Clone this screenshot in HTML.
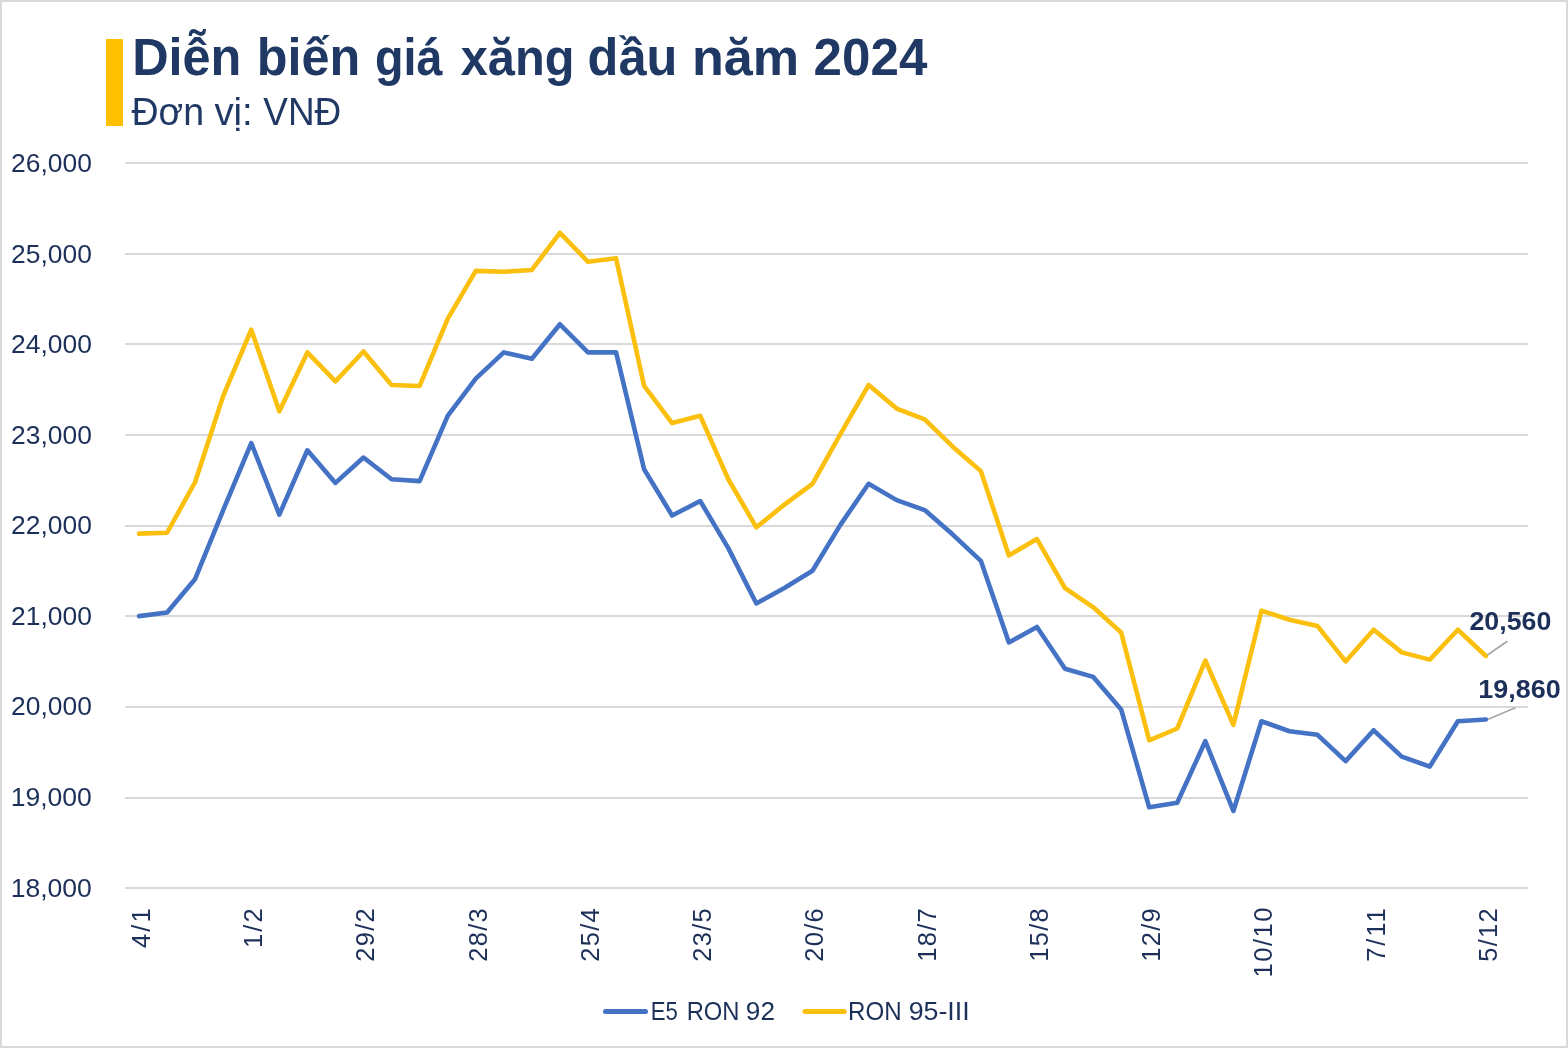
<!DOCTYPE html>
<html lang="vi"><head><meta charset="utf-8"><title>Diễn biến giá xăng dầu năm 2024</title>
<style>
html,body{margin:0;padding:0;background:#fff;}
body{width:1568px;height:1048px;overflow:hidden;font-family:"Liberation Sans",sans-serif;}
svg{display:block;will-change:transform;font-family:"Liberation Sans",sans-serif;}
text{fill:#1D3059;}
.t text{fill:#1F3864;}
.ax{font-size:25.5px;}
</style></head><body>
<svg width="1568" height="1048" viewBox="0 0 1568 1048">
<rect x="0" y="0" width="1568" height="1048" fill="#ffffff"/>
<rect x="1" y="1" width="1566" height="1046" fill="none" stroke="#D9D9D9" stroke-width="2"/>

<rect x="106" y="39" width="17" height="87" fill="#FFC000"/>
<g class="t"><text transform="translate(132.15,75.00) scale(0.9850,1)" font-size="51.2" font-weight="bold">Diễn</text>
<text transform="translate(256.85,75.00) scale(0.9832,1)" font-size="51.2" font-weight="bold">biến</text>
<text transform="translate(375.04,75.00) scale(0.9120,1)" font-size="51.2" font-weight="bold">giá</text>
<text transform="translate(460.70,75.00) scale(0.9516,1)" font-size="51.2" font-weight="bold">xăng</text>
<text transform="translate(587.52,75.00) scale(0.9867,1)" font-size="51.2" font-weight="bold">dầu</text>
<text transform="translate(691.94,75.00) scale(1.0177,1)" font-size="51.2" font-weight="bold">năm</text>
<text transform="translate(813.60,75.00) scale(0.9989,1)" font-size="51.2" font-weight="bold">2024</text></g>
<g class="t"><text transform="translate(131.50,125.30) scale(0.9776,1)" font-size="38.4">Đơn</text>
<text transform="translate(214.40,125.30) scale(0.9991,1)" font-size="38.4">vị:</text>
<text transform="translate(263.30,125.30) scale(0.9618,1)" font-size="38.4">VNĐ</text></g>
<line x1="125.0" y1="163.00" x2="1528.0" y2="163.00" stroke="#D9D9D9" stroke-width="2"/>
<line x1="125.0" y1="254.00" x2="1528.0" y2="254.00" stroke="#D9D9D9" stroke-width="2"/>
<line x1="125.0" y1="344.00" x2="1528.0" y2="344.00" stroke="#D9D9D9" stroke-width="2"/>
<line x1="125.0" y1="435.00" x2="1528.0" y2="435.00" stroke="#D9D9D9" stroke-width="2"/>
<line x1="125.0" y1="526.00" x2="1528.0" y2="526.00" stroke="#D9D9D9" stroke-width="2"/>
<line x1="125.0" y1="616.00" x2="1528.0" y2="616.00" stroke="#D9D9D9" stroke-width="2"/>
<line x1="125.0" y1="707.00" x2="1528.0" y2="707.00" stroke="#D9D9D9" stroke-width="2"/>
<line x1="125.0" y1="798.00" x2="1528.0" y2="798.00" stroke="#D9D9D9" stroke-width="2"/>
<line x1="125.0" y1="888.00" x2="1528.0" y2="888.00" stroke="#D9D9D9" stroke-width="2"/>
<text transform="translate(11.06,172.00) scale(1.0359,1)" font-size="25.5">26,000</text>
<text transform="translate(11.06,262.58) scale(1.0359,1)" font-size="25.5">25,000</text>
<text transform="translate(11.06,353.16) scale(1.0359,1)" font-size="25.5">24,000</text>
<text transform="translate(11.06,443.74) scale(1.0359,1)" font-size="25.5">23,000</text>
<text transform="translate(11.06,534.32) scale(1.0359,1)" font-size="25.5">22,000</text>
<text transform="translate(11.06,624.90) scale(1.0359,1)" font-size="25.5">21,000</text>
<text transform="translate(11.06,715.48) scale(1.0359,1)" font-size="25.5">20,000</text>
<text transform="translate(10.64,806.06) scale(1.0414,1)" font-size="25.5">19,000</text>
<text transform="translate(10.64,896.64) scale(1.0414,1)" font-size="25.5">18,000</text>
<text class="ax" text-anchor="end" textLength="39.6" lengthAdjust="spacing" transform="translate(149.93,908.3) rotate(-90)">4/1</text>
<text class="ax" text-anchor="end" textLength="39.6" lengthAdjust="spacing" transform="translate(262.17,908.3) rotate(-90)">1/2</text>
<text class="ax" text-anchor="end" textLength="53.5" lengthAdjust="spacing" transform="translate(374.41,908.3) rotate(-90)">29/2</text>
<text class="ax" text-anchor="end" textLength="53.5" lengthAdjust="spacing" transform="translate(486.65,908.3) rotate(-90)">28/3</text>
<text class="ax" text-anchor="end" textLength="53.5" lengthAdjust="spacing" transform="translate(598.89,908.3) rotate(-90)">25/4</text>
<text class="ax" text-anchor="end" textLength="53.5" lengthAdjust="spacing" transform="translate(711.13,908.3) rotate(-90)">23/5</text>
<text class="ax" text-anchor="end" textLength="53.5" lengthAdjust="spacing" transform="translate(823.37,908.3) rotate(-90)">20/6</text>
<text class="ax" text-anchor="end" textLength="53.5" lengthAdjust="spacing" transform="translate(935.61,908.3) rotate(-90)">18/7</text>
<text class="ax" text-anchor="end" textLength="53.5" lengthAdjust="spacing" transform="translate(1047.85,908.3) rotate(-90)">15/8</text>
<text class="ax" text-anchor="end" textLength="53.5" lengthAdjust="spacing" transform="translate(1160.09,908.3) rotate(-90)">12/9</text>
<text class="ax" text-anchor="end" textLength="70.0" lengthAdjust="spacing" transform="translate(1272.33,907.5) rotate(-90)">10/10</text>
<text class="ax" text-anchor="end" textLength="53.5" lengthAdjust="spacing" transform="translate(1384.57,908.3) rotate(-90)">7/11</text>
<text class="ax" text-anchor="end" textLength="53.5" lengthAdjust="spacing" transform="translate(1496.81,908.3) rotate(-90)">5/12</text>
<polyline points="139.03,616.12 167.09,612.50 195.15,578.97 223.21,510.09 251.27,443.03 279.33,514.62 307.39,450.28 335.45,482.91 363.51,457.53 391.57,479.28 419.63,481.09 447.69,415.84 475.75,378.69 503.81,352.41 531.87,358.75 559.93,324.31 587.99,352.41 616.05,352.41 644.11,469.31 672.17,515.53 700.23,501.03 728.29,548.16 756.35,603.44 784.41,588.03 812.47,570.81 840.53,524.59 868.59,483.81 896.65,500.12 924.71,510.09 952.77,534.56 980.83,560.84 1008.89,642.41 1036.95,627.00 1065.01,668.69 1093.07,676.84 1121.13,709.47 1149.19,807.34 1177.25,802.81 1205.31,741.19 1233.37,810.97 1261.43,721.25 1289.49,731.22 1317.55,734.84 1345.61,761.12 1373.67,730.31 1401.73,756.59 1429.79,766.56 1457.85,721.25 1485.91,719.44" fill="none" stroke="#4472C4" stroke-width="4.6" stroke-linejoin="round" stroke-linecap="round"/>
<polyline points="139.03,533.66 167.09,532.75 195.15,482.00 223.21,395.91 251.27,329.75 279.33,411.31 307.39,352.41 335.45,381.41 363.51,351.50 391.57,385.03 419.63,385.94 447.69,318.88 475.75,270.84 503.81,271.75 531.87,269.94 559.93,232.78 587.99,261.78 616.05,258.16 644.11,385.94 672.17,423.09 700.23,415.84 728.29,479.28 756.35,527.31 784.41,504.66 812.47,483.81 840.53,433.97 868.59,385.03 896.65,408.59 924.71,419.47 952.77,446.66 980.83,471.12 1008.89,555.41 1036.95,539.09 1065.01,588.03 1093.07,607.06 1121.13,632.44 1149.19,740.28 1177.25,728.50 1205.31,660.53 1233.37,724.88 1261.43,610.69 1289.49,619.75 1317.55,626.09 1345.61,661.44 1373.67,629.72 1401.73,652.38 1429.79,659.62 1457.85,629.72 1485.91,656.00" fill="none" stroke="#FBBF0E" stroke-width="4.6" stroke-linejoin="round" stroke-linecap="round"/>
<line x1="1487.4" y1="655" x2="1507.3" y2="641.3" stroke="#A6A6A6" stroke-width="1.7"/>
<line x1="1488.2" y1="719.2" x2="1515.4" y2="707.8" stroke="#A6A6A6" stroke-width="1.7"/>
<text transform="translate(1469.46,629.80) scale(1.0491,1)" font-size="25.5" font-weight="bold">20,560</text>
<text transform="translate(1478.21,698.00) scale(1.0575,1)" font-size="25.5" font-weight="bold">19,860</text>
<line x1="605.5" y1="1011.4" x2="645.5" y2="1011.4" stroke="#4472C4" stroke-width="5" stroke-linecap="round"/>
<line x1="805" y1="1011.4" x2="844.3" y2="1011.4" stroke="#FBBF0E" stroke-width="5" stroke-linecap="round"/>
<text transform="translate(650.77,1019.80) scale(0.8699,1)" font-size="25.5">E5</text>
<text transform="translate(686.64,1019.80) scale(0.9336,1)" font-size="25.5">RON</text>
<text transform="translate(745.87,1019.80) scale(1.0254,1)" font-size="25.5">92</text>
<text transform="translate(848.01,1019.80) scale(0.9469,1)" font-size="25.5">RON</text>
<text transform="translate(908.64,1019.80) scale(1.0511,1)" font-size="25.5">95-III</text>
</svg></body></html>
